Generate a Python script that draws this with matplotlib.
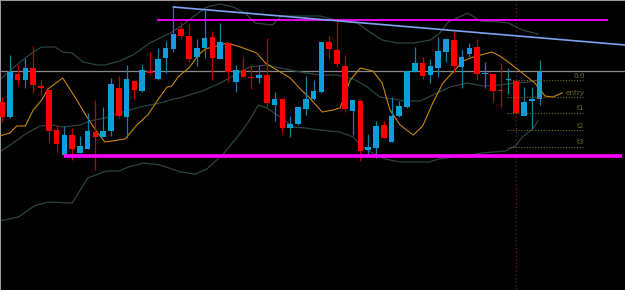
import numpy as np
import matplotlib.pyplot as plt

# candles: price levels in chart units (axis is inverted, small = high)
opens = [102, 117, 74, 80, 68, 86, 90, 130, 155, 135, 153, 149, 132, 137,
         131, 88, 117, 81, 91, 71, 79, 58, 49, 29, 36, 57, 48, 37, 59, 43,
         82, 70, 77, 78, 75, 105, 99, 128, 124, 109, 99, 92, 42, 50, 66, 111,
         101, 150, 148, 125, 142, 116, 107, 72, 63, 75, 68, 52, 40, 67, 54,
         47, 74, 74, 90, 80, 81, 116, 101, 99]
closes = [117, 72, 80, 68, 85, 88, 131, 144, 135, 149, 146, 131, 137, 131,
          84, 116, 79, 90, 70, 73, 59, 48, 34, 36, 59, 48, 38, 58, 42, 72,
          70, 77, 78, 75, 103, 99, 128, 124, 107, 99, 91, 42, 49, 64, 109, 100,
          151, 147, 126, 138, 116, 106, 71, 63, 76, 66, 51, 39, 66, 57, 48,
          74, 73, 91, 91, 79, 113, 102, 99, 72]
highs = [97, 55, 65, 58, 46, 80, 90, 125, 126, 128, 136, 113, 100, 107,
         78, 76, 65, 81, 64, 52, 48, 41, 7, 22, 23, 39, 10, 31, 23, 43,
         65, 57, 65, 65, 38, 92, 99, 116, 107, 76, 80, 42, 36, 21, 55, 100,
         99, 134, 121, 121, 97, 101, 71, 47, 57, 59, 37, 39, 31, 49, 43,
         39, 62, 74, 63, 68, 81, 87, 87, 60]
lows = [122, 118, 85, 88, 93, 95, 143, 152, 155, 160, 153, 149, 170, 137,
        136, 118, 138, 99, 92, 75, 80, 73, 52, 38, 62, 66, 58, 80, 59, 82,
        92, 77, 89, 83, 107, 121, 133, 137, 125, 115, 100, 93, 59, 67, 112,
        135, 161, 155, 158, 138, 142, 117, 108, 72, 79, 83, 77, 62, 73, 88,
        57, 80, 88, 102, 107, 94, 113, 116, 129, 105]

# bollinger bands and moving average, read as (bar, level) points
upper_x = [-0.3, 1.4, 3.0, 4.0, 5.1, 6.8, 7.8, 9.0, 10.4, 12.2, 13.2, 15.1,
           16.8, 19.0, 20.3, 21.6, 23.2, 24.5, 26.1, 26.7, 28.0, 29.7, 31.2,
           32.5, 34.7, 35.9, 38.9, 40.8, 43.4, 45.6, 47.2, 48.8, 50.7, 52.8,
           55.0, 56.2, 57.3, 59.8, 61.4, 63.9, 65.0, 66.8, 68.8]
upper_y = [80, 68, 58, 52, 47, 47, 52, 53, 62, 65, 65, 61, 55, 43, 38, 33,
           25, 17, 8, 6, 4, 7, 13, 23, 25, 16, 16, 16, 21, 23, 32, 40, 43,
           43, 40, 33, 22, 13, 21, 22, 23, 30, 34]
mid_x = [-0.3, 1.4, 3.2, 4.9, 6.5, 7.8, 10.0, 11.3, 13.2, 15.1, 17.7, 20.3,
         21.6, 23.2, 25.7, 28.0, 30.6, 31.8, 34.0, 35.7, 38.3, 40.8, 43.0,
         45.1, 46.9, 48.5, 50.2, 51.7, 53.7, 55.3, 57.5, 59.7, 61.7, 63.9,
         65.9, 67.5, 68.8]
mid_y = [152, 143, 133, 126, 125, 127, 125, 121, 118, 113, 107, 103, 100,
         97, 91, 83, 72, 67, 65, 68, 72, 75, 75, 79, 87, 97, 99, 101, 101,
         95, 87, 83, 86, 85, 83, 82, 80]
lower_x = [-0.3, 2.1, 4.1, 5.9, 9.0, 11.0, 13.4, 15.1, 16.2, 18.2, 20.3,
           22.9, 24.8, 26.3, 28.4, 30.6, 31.8, 32.9, 34.0, 35.7, 37.4, 38.9,
           40.8, 43.4, 45.1, 46.2, 47.6, 49.2, 51.1, 53.0, 54.8, 56.1, 60.1,
           61.6, 64.6, 65.9, 66.8, 68.0, 68.8]
lower_y = [221, 217, 206, 202, 203, 178, 171, 171, 167, 163, 165, 172, 174,
           169, 154, 133, 120, 105, 108, 117, 127, 128, 130, 132, 137, 147,
           153, 159, 162, 162, 162, 159, 155, 153, 151, 146, 137, 130, 121]
ma_x = [-0.3, 1.0, 1.9, 3.0, 4.0, 5.1, 5.9, 7.8, 9.6, 10.9, 12.2, 13.2, 15.8,
        17.3, 18.7, 20.0, 21.2, 21.8, 22.6, 24.1, 25.2, 26.1, 27.1, 28.9,
        30.6, 32.7, 33.8, 35.3, 37.0, 38.3, 39.5, 41.1, 42.5, 43.4, 44.7,
        46.0, 47.6, 48.8, 49.8, 51.1, 52.8, 54.0, 55.3, 56.6, 57.9, 59.2,
        60.5, 62.9, 63.9, 65.0, 67.1, 68.4, 69.7, 70.7, 71.9]
ma_y = [136, 133, 126, 126, 110, 100, 89, 78, 100, 117, 132, 142, 139, 125,
        115, 100, 87, 86, 77, 67, 55, 49, 47, 43, 47, 53, 63, 70, 78, 89, 98,
        112, 110, 108, 80, 68, 71, 83, 110, 125, 135, 126, 103, 83, 72, 61,
        57, 52, 56, 62, 75, 83, 96, 97, 93]

level_gray = 71
resist = (19.9, 77.8, 20)
support = (8.0, 79.6, 156)
trend = ([22.0, 80.0], [7, 45])
fib_names = ['0.0', 'entry', 't1', 't2', 't3']
fib_levels = [80, 97, 113, 130, 147]
fib_span = (64.8, 74.8)
cursor_bar = 66

step = 7.79
fig = plt.figure(figsize=(6.25, 2.9), dpi=100, facecolor='black')
ax = fig.add_axes([0, 0, 1, 1], facecolor='black')
ax.set_xlim(-2 / step, 623 / step)
ax.set_ylim(290, 0)
for s in ['right', 'bottom']:
    ax.spines[s].set_visible(False)
for s in ['left', 'top']:
    ax.spines[s].set_color('#9a9a9a')
    ax.spines[s].set_linewidth(1.5)
ax.set_xticks([])
ax.set_yticks([])

ax.axhline(level_gray, color='#8a8a8a', lw=0.9, zorder=1)
ax.axvline(cursor_bar, color='#800080', lw=0.9, ls=(0, (1, 2)), zorder=1)

ax.plot(upper_x, upper_y, color='#2b4444', lw=0.9, zorder=2)
ax.plot(mid_x, mid_y, color='#2b4444', lw=0.9, zorder=2)
ax.plot(lower_x, lower_y, color='#2b4444', lw=0.9, zorder=2)
ax.plot(ma_x, ma_y, color='#c8860b', lw=0.8, zorder=2)

x = np.arange(len(opens))
o = np.array(opens)
c = np.array(closes)
bull = c < o
wick_col = np.where(bull, '#1a7aa8', '#c00000')
body_col = np.where(bull, '#0a9fd8', '#ff0000')
ax.vlines(x, highs, lows, colors=wick_col, lw=0.9, zorder=3)
top = np.minimum(o, c)
h = np.maximum(np.abs(o - c), 1.2)
ax.bar(x, h, bottom=top, width=0.72, color=body_col, edgecolor='none',
       zorder=4)

ax.hlines(resist[2], resist[0], resist[1], color='#ff00ff', lw=1.3, zorder=5)
ax.hlines(support[2], support[0], support[1], color='#ff00ff', lw=2.6,
          zorder=5)
ax.plot(trend[0], trend[1], color='#7ea2f2', lw=1.2, zorder=5)

for name, lv in zip(fib_names, fib_levels):
    ax.hlines(lv, fib_span[0], fib_span[1], color='#6e6e22', lw=0.8,
              ls=(0, (1, 1.5)), zorder=5)
    ax.text(fib_span[1], lv - 1.5, name, color='#6e6e22', fontsize=5.2,
            ha='right', va='bottom', zorder=6)

fig.savefig('out.png', dpi=100, facecolor='black')
